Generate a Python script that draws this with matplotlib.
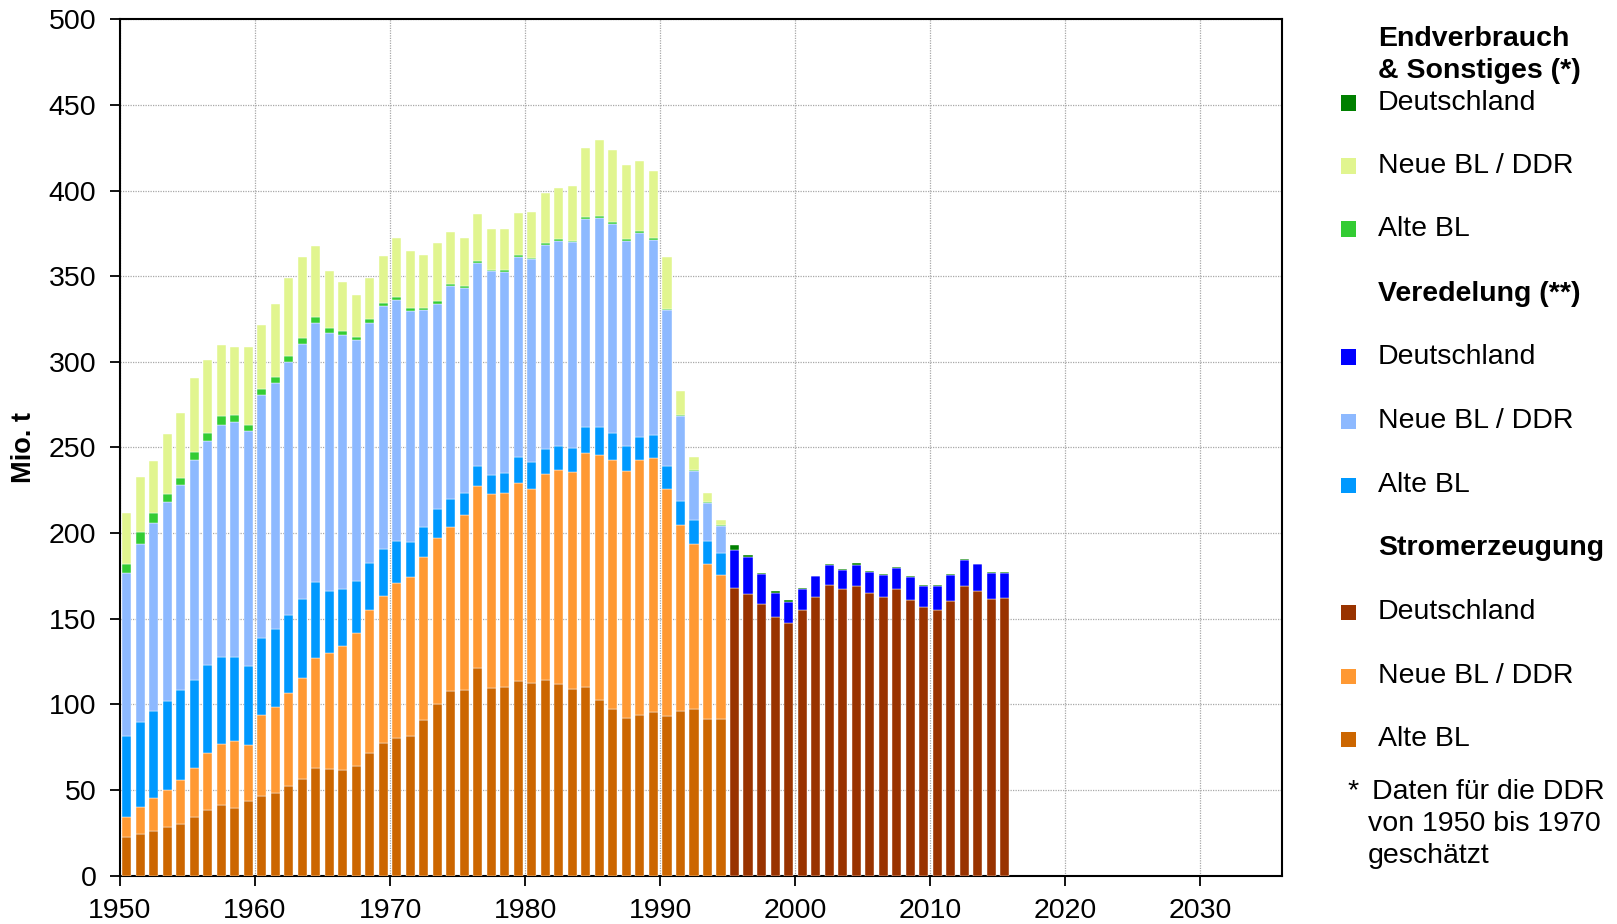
import matplotlib
matplotlib.use("Agg")
import matplotlib.pyplot as plt
from matplotlib.patches import Rectangle
import numpy as np

plt.rcParams['font.family'] = ['Liberation Sans', 'DejaVu Sans']

# ---------------- data (Mio. t) ----------------
years_split = list(range(1950, 1995))   # Alte BL / Neue BL (DDR)
years_de = list(range(1995, 2016))      # Deutschland

strom_alte = [22.6, 24.3, 26.3, 28.5, 30.2, 34.1, 38.3, 41.3, 39.7, 43.6,
              46.6, 48.3, 52.5, 56.4, 62.8, 62.3, 61.7, 64.0, 71.8, 77.4,
              80.2, 81.6, 91.1, 100.0, 107.8, 108.4, 121.2, 109.8, 110.3, 113.7,
              112.6, 114.2, 112.0, 108.9, 110.3, 102.8, 97.5, 92.2, 93.9, 95.5,
              93.3, 96.2, 97.4, 91.4, 91.7]
strom_neue = [11.5, 15.7, 19.0, 21.5, 25.4, 29.0, 33.2, 35.5, 38.8, 32.9,
              47.0, 50.3, 54.2, 59.2, 64.3, 67.9, 72.4, 77.6, 83.5, 86.0,
              90.5, 93.0, 94.9, 96.9, 95.6, 101.9, 106.2, 112.8, 112.9, 115.6,
              113.1, 120.2, 124.6, 126.6, 136.6, 142.7, 145.2, 143.8, 148.6, 148.6,
              132.4, 108.8, 96.3, 90.3, 83.9]
ved_alte = [47.5, 49.7, 51.1, 52.0, 53.1, 51.1, 51.7, 50.9, 49.2, 46.1,
            45.2, 45.3, 45.5, 46.1, 44.4, 36.3, 33.2, 30.5, 27.4, 27.6,
            24.8, 20.4, 17.6, 17.1, 16.7, 12.9, 12.0, 11.5, 12.0, 15.4,
            15.9, 14.8, 14.0, 14.2, 14.8, 16.2, 15.7, 15.1, 13.6, 13.4,
            13.4, 13.9, 13.8, 13.9, 12.7]
ved_neue = [95.4, 104.2, 109.7, 116.2, 119.3, 128.5, 130.7, 135.7, 137.4, 136.9,
            141.6, 143.5, 147.8, 148.9, 151.4, 150.5, 148.3, 140.7, 140.2, 141.4,
            140.8, 134.6, 126.6, 120.0, 124.0, 120.1, 118.4, 118.7, 117.0, 116.8,
            118.2, 119.0, 120.1, 120.1, 121.8, 122.1, 122.3, 119.6, 119.3, 113.7,
            91.1, 49.2, 28.5, 22.2, 15.9]
end_alte = [4.8, 6.9, 5.6, 4.4, 4.4, 4.8, 4.5, 4.8, 3.9, 3.9,
            4.0, 3.6, 3.4, 3.6, 3.1, 2.6, 2.3, 2.0, 2.0, 1.8,
            1.7, 1.7, 1.1, 1.8, 1.2, 0.8, 1.1, 1.1, 1.2, 1.1,
            1.1, 1.1, 0.8, 0.9, 1.1, 1.1, 0.9, 0.8, 0.9, 1.1,
            0.8, 0.9, 0.6, 0.5, 0.6]
end_neue = [30.2, 32.2, 30.2, 35.5, 37.7, 43.3, 42.4, 41.6, 39.7, 45.3,
            37.4, 43.0, 45.5, 47.0, 41.9, 33.2, 29.0, 24.0, 24.0, 27.6,
            34.6, 33.2, 31.3, 33.5, 30.4, 28.5, 27.4, 23.5, 24.0, 24.3,
            26.8, 29.0, 29.9, 31.8, 40.0, 44.4, 42.1, 43.6, 40.7, 38.9,
            30.2, 14.0, 8.0, 5.3, 3.1]

strom_de = [167.9, 164.6, 158.7, 151.2, 147.5, 155.2, 163.0, 169.6, 167.3, 169.2,
            165.3, 162.8, 167.3, 161.2, 156.6, 155.2, 160.3, 169.4, 166.3, 161.8, 162.2]
ved_de = [22.5, 21.3, 17.3, 13.8, 12.4, 11.9, 11.9, 11.9, 11.2, 12.1,
          11.9, 12.8, 12.4, 13.1, 12.4, 13.8, 15.1, 15.0, 15.5, 15.0, 14.4]
end_de = [2.7, 1.6, 1.0, 1.1, 1.0, 0.6, 0.3, 0.5, 0.6, 1.1,
          0.6, 0.6, 0.8, 0.7, 0.8, 0.6, 0.8, 0.6, 0.4, 0.6, 0.8]

x_ticks = [1950, 1960, 1970, 1980, 1990, 2000, 2010, 2020, 2030]
y_ticks = [0, 50, 100, 150, 200, 250, 300, 350, 400, 450, 500]

colors = {
    'end_de': '#008000', 'end_neue': '#E1F58F', 'end_alte': '#33CC33',
    'ved_de': '#0000FF', 'ved_neue': '#8DB9FF', 'ved_alte': '#0099FF',
    'strom_de': '#993300', 'strom_neue': '#FF9933', 'strom_alte': '#CC6600',
}

FS = 20.5

# ---------------- figure ----------------
W, H = 1617, 924
fig = plt.figure(figsize=(W / 100, H / 100), dpi=100)
ax = fig.add_axes([120 / W, 1 - 875.7 / H, (1281.5 - 120) / W, (875.7 - 19.3) / H])

bw = 0.67
xs = np.array(years_split) + 0.5
xd = np.array(years_de) + 0.5
ekw = dict(width=bw, edgecolor='white', linewidth=0.3, zorder=3)

bottom = np.zeros(len(years_split))
for key, vals in [('strom_alte', strom_alte), ('strom_neue', strom_neue),
                  ('ved_alte', ved_alte), ('ved_neue', ved_neue),
                  ('end_alte', end_alte), ('end_neue', end_neue)]:
    v = np.array(vals)
    ax.bar(xs, v, bottom=bottom, color=colors[key], **ekw)
    bottom += v

bottom = np.zeros(len(years_de))
for key, vals in [('strom_de', strom_de), ('ved_de', ved_de), ('end_de', end_de)]:
    v = np.array(vals)
    ax.bar(xd, v, bottom=bottom, color=colors[key], **ekw)
    bottom += v

ax.set_xlim(1950, 2036)
ax.set_ylim(0, 500)
ax.set_xticks(x_ticks)
ax.set_yticks(y_ticks)
ax.tick_params(axis='both', labelsize=FS, direction='out', length=7, width=1.3, color='black')
ax.tick_params(axis='x', pad=9)
ax.tick_params(axis='y', pad=10)
ax.grid(True, color='#A8A8A8', linestyle=(0, (1, 1)), linewidth=0.9, zorder=0)
ax.set_axisbelow(True)
for s in ax.spines.values():
    s.set_linewidth(1.5)
    s.set_color('black')

fig.text(24 / W, 1 - 447 / H, 'Mio. t', rotation=90, fontsize=19.5, fontweight='bold',
         ha='center', va='center')

# ---------------- legend (custom) ----------------
tx = 1378 / W
mx0 = 1341 / W
msz_w = 15 / W
msz_h = 15 / H

def head(y, txt):
    fig.text(tx, 1 - y / H, txt, fontsize=FS, fontweight='bold', ha='left', va='center')

def item(y, txt, key):
    fig.text(tx, 1 - y / H, txt, fontsize=FS, ha='left', va='center')
    fig.patches.append(Rectangle((mx0, 1 - (y + 7.5) / H), msz_w, msz_h,
                                 transform=fig.transFigure, facecolor=colors[key],
                                 edgecolor='none'))

head(39.5, 'Endverbrauch')
head(71.5, '& Sonstiges (*)')
item(103, 'Deutschland', 'end_de')
item(166, 'Neue BL / DDR', 'end_neue')
item(229, 'Alte BL', 'end_alte')
head(294, 'Veredelung (**)')
item(357, 'Deutschland', 'ved_de')
item(421, 'Neue BL / DDR', 'ved_neue')
item(485, 'Alte BL', 'ved_alte')
head(548, 'Stromerzeugung')
item(612, 'Deutschland', 'strom_de')
item(676, 'Neue BL / DDR', 'strom_neue')
item(739, 'Alte BL', 'strom_alte')

fig.text(1347 / W, 1 - 791 / H, '*', fontsize=FS, ha='left', va='center')
fig.text(1372 / W, 1 - 792 / H, 'Daten für die DDR', fontsize=FS, ha='left', va='center')
fig.text(1368 / W, 1 - 824 / H, 'von 1950 bis 1970', fontsize=FS, ha='left', va='center')
fig.text(1368 / W, 1 - 856 / H, 'geschätzt', fontsize=FS, ha='left', va='center')

fig.savefig('out.png', dpi=100)
